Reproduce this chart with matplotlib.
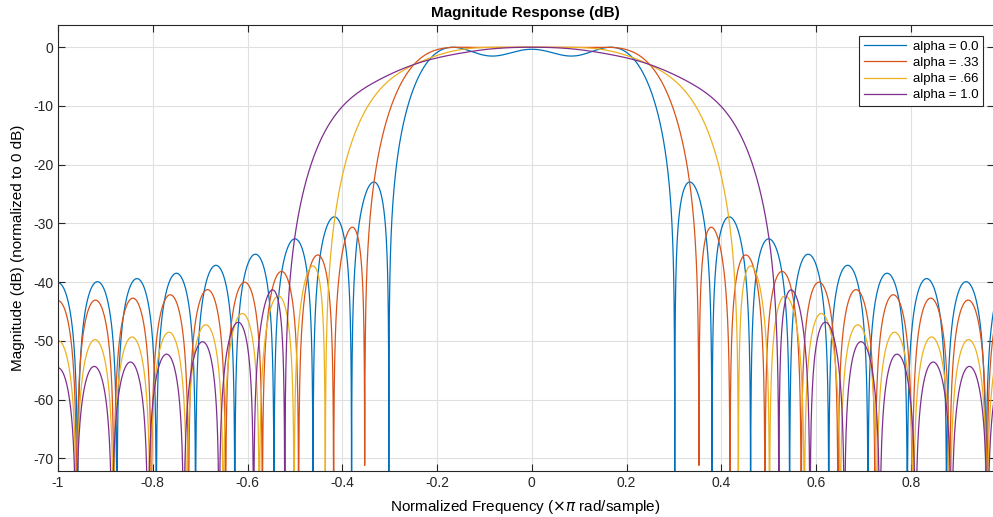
import numpy as np
import matplotlib.pyplot as plt

# square-root raised cosine pulses: span 6 symbols, 4 samples per symbol
alphas = [0.0, 0.33, 0.66, 1.0]
labels = ["alpha = 0.0", "alpha = .33", "alpha = .66", "alpha = 1.0"]
colors = ["#0072BD", "#D95319", "#EDB120", "#7E2F8E"]
span = 6
sps = 4
nfft = 8192


def srrc(beta, span, sps):
    t = np.arange(-span * sps // 2, span * sps // 2 + 1) / sps
    h = np.zeros(len(t))
    for i, ti in enumerate(t):
        if ti == 0:
            h[i] = 1 - beta + 4 * beta / np.pi
        elif beta > 0 and np.isclose(abs(4 * beta * ti), 1.0):
            h[i] = beta / np.sqrt(2) * ((1 + 2 / np.pi) * np.sin(np.pi / (4 * beta))
                                        + (1 - 2 / np.pi) * np.cos(np.pi / (4 * beta)))
        else:
            h[i] = (np.sin(np.pi * ti * (1 - beta)) + 4 * beta * ti * np.cos(np.pi * ti * (1 + beta))) \
                / (np.pi * ti * (1 - (4 * beta * ti) ** 2))
    return h


plt.rcParams["font.family"] = ["Liberation Sans", "DejaVu Sans"]
plt.rcParams["axes.unicode_minus"] = False
fig = plt.figure(figsize=(9.93, 5.17), dpi=100)
ax = fig.add_axes([58 / 993, 1 - 470.7 / 517, (993.5 - 58) / 993, (470.7 - 25.5) / 517])

w = np.fft.fftshift(np.fft.fftfreq(nfft)) * 2
for a, lab, c in zip(alphas, labels, colors):
    H = np.abs(np.fft.fftshift(np.fft.fft(srrc(a, span, sps), nfft)))
    H = H / H.max()
    mag = 20 * np.log10(np.maximum(H, 1e-12))
    ax.plot(w, mag, color=c, lw=0.9, label=lab)

ax.set_xlim(-1, 0.9745)
ax.set_ylim(-72.1, 3.7)
ax.set_xticks(np.arange(-1, 0.81, 0.2))
ax.set_xticklabels(["-1", "-0.8", "-0.6", "-0.4", "-0.2", "0", "0.2", "0.4", "0.6", "0.8"])
ax.set_yticks(np.arange(-70, 1, 10))
ax.grid(True, color="#e0e0e0", lw=0.8)
ax.set_axisbelow(True)
ax.tick_params(direction="in", top=True, right=True, length=5, labelsize=10, colors="#262626")
for s in ax.spines.values():
    s.set_color("#262626")
    s.set_linewidth(0.8)
ax.set_title("Magnitude Response (dB)", fontsize=11, fontweight="bold", pad=6)
ax.set_xlabel("Normalized Frequency ($\\times\\pi$ rad/sample)", fontsize=11, labelpad=6)
ax.set_ylabel("Magnitude (dB) (normalized to 0 dB)", fontsize=11, labelpad=6)
leg = ax.legend(loc="upper right", fontsize=9.5, fancybox=False, edgecolor="#262626",
                framealpha=1, handlelength=3.2, handletextpad=0.5, borderaxespad=0.8,
                labelspacing=0.3, borderpad=0.35)
leg.get_frame().set_linewidth(0.8)

fig.savefig("out.png", dpi=100)
